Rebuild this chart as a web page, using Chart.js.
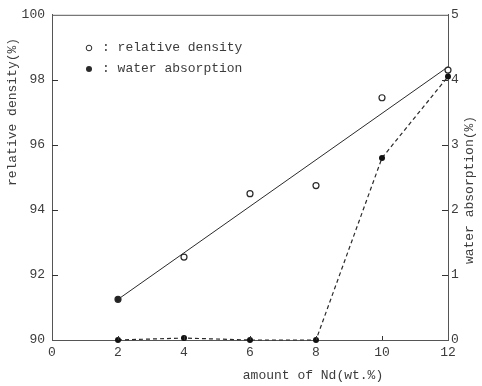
<!DOCTYPE html>
<html>
<head>
<meta charset="utf-8">
<script src="https://cdn.jsdelivr.net/npm/chart.js@4"></script>
<style>
  html, body { margin: 0; padding: 0; background: #fff; }
  #wrap { width: 482px; height: 386px; }
</style>
</head>
<body>
<div id="wrap"><canvas id="c" width="482" height="386"></canvas></div>
<script>
// Nd content (wt.%) of the sintered samples
const ndAmount = [2, 4, 6, 8, 10, 12];
// measured relative density (%)
const relativeDensity = [91.25, 92.55, 94.5, 94.75, 97.45, 98.3];
// measured water absorption (%)
const waterAbsorption = [0, 0.03, 0, 0, 2.8, 4.05];
// straight trend line through the density data
const fitAmount = [2, 12];
const fitDensity = [91.25, 98.4];
// axis tick values
const xTicks = [0, 2, 4, 6, 8, 10, 12];
const densityTicks = [90, 92, 94, 96, 98, 100];
const absorptionTicks = [0, 1, 2, 3, 4, 5];

const FONT = '"Liberation Mono", "DejaVu Sans Mono", monospace';
const INK = '#2a2a2a';
const TEXT = '#3c3c3c';

const pts = (xs, ys) => xs.map((x, i) => ({ x: x, y: ys[i] }));
const fixTicks = vals => scale => { scale.ticks = vals.map(v => ({ value: v })); };

// frame, inward tick marks, axis titles and the key
const decorations = {
  id: 'decorations',
  afterDraw(chart) {
    const { ctx, chartArea: a, scales } = chart;
    ctx.save();
    ctx.strokeStyle = '#555';
    ctx.lineWidth = 1;
    ctx.beginPath();
    ctx.moveTo(a.left, a.top + 0.5);
    ctx.lineTo(a.right, a.top + 0.5);
    ctx.stroke();

    ctx.strokeStyle = '#333';
    ctx.beginPath();
    densityTicks.slice(1, -1).forEach(v => {
      const y = Math.round(scales.y.getPixelForValue(v)) + 0.5;
      ctx.moveTo(a.left, y); ctx.lineTo(a.left + 6, y);
    });
    absorptionTicks.slice(1, -1).forEach(v => {
      const y = Math.round(scales.y2.getPixelForValue(v)) + 0.5;
      ctx.moveTo(a.right, y); ctx.lineTo(a.right - 6, y);
    });
    xTicks.slice(1, -1).forEach(v => {
      const x = Math.round(scales.x.getPixelForValue(v)) + 0.5;
      ctx.moveTo(x, a.bottom); ctx.lineTo(x, a.bottom - 4);
    });
    ctx.stroke();

    ctx.fillStyle = TEXT;
    ctx.font = '13px ' + FONT;
    ctx.textBaseline = 'middle';
    ctx.textAlign = 'center';
    ctx.fillText('amount of Nd(wt.%)', 313, 376);

    ctx.save();
    ctx.translate(13, 112);
    ctx.rotate(-Math.PI / 2);
    ctx.fillText('relative density(%)', 0, 0);
    ctx.restore();

    ctx.save();
    ctx.translate(470, 190);
    ctx.rotate(-Math.PI / 2);
    ctx.fillText('water absorption(%)', 0, 0);
    ctx.restore();

    // key
    ctx.textAlign = 'left';
    ctx.strokeStyle = INK;
    ctx.beginPath();
    ctx.arc(89, 48, 2.8, 0, Math.PI * 2);
    ctx.stroke();
    ctx.fillStyle = INK;
    ctx.beginPath();
    ctx.arc(89, 69, 3, 0, Math.PI * 2);
    ctx.fill();
    ctx.fillStyle = TEXT;
    ctx.fillText(': relative density', 102, 48);
    ctx.fillText(': water absorption', 102, 69);
    ctx.restore();
  }
};

new Chart(document.getElementById('c'), {
  type: 'scatter',
  data: {
    datasets: [
      {
        label: 'trend',
        data: pts(fitAmount, fitDensity),
        yAxisID: 'y',
        showLine: true,
        borderColor: INK,
        borderWidth: 1,
        pointRadius: 0,
        clip: false
      },
      {
        label: 'relative density',
        data: pts(ndAmount, relativeDensity),
        yAxisID: 'y',
        showLine: false,
        pointRadius: 3,
        pointBorderWidth: 1.2,
        pointBorderColor: INK,
        pointBackgroundColor: ['#222', '#fff', '#fff', '#fff', '#fff', '#fff'],
        clip: false
      },
      {
        label: 'water absorption',
        data: pts(ndAmount, waterAbsorption),
        yAxisID: 'y2',
        showLine: true,
        borderColor: INK,
        borderWidth: 1.2,
        borderDash: [4, 3],
        pointRadius: 3,
        pointBorderWidth: 0,
        pointBackgroundColor: '#111',
        clip: false
      }
    ]
  },
  options: {
    responsive: false,
    animation: false,
    devicePixelRatio: 1,
    layout: { padding: { top: 12, left: 0, right: 0, bottom: 0 } },
    plugins: { legend: { display: false }, tooltip: { enabled: false } },
    scales: {
      x: {
        type: 'linear',
        min: 0, max: 12,
        afterBuildTicks: fixTicks(xTicks),
        afterFit: s => { s.height = 46; },
        grid: { display: false, drawTicks: false },
        border: { display: true, color: '#555', width: 1 },
        ticks: { color: TEXT, font: { family: FONT, size: 13 }, padding: 5, maxRotation: 0 }
      },
      y: {
        position: 'left',
        min: 90, max: 100,
        afterBuildTicks: fixTicks(densityTicks),
        afterFit: s => { s.width = 52; },
        grid: { display: false, drawTicks: false },
        border: { display: true, color: '#555', width: 1 },
        ticks: { color: TEXT, font: { family: FONT, size: 13 }, padding: 7 }
      },
      y2: {
        position: 'right',
        min: 0, max: 5,
        afterBuildTicks: fixTicks(absorptionTicks),
        afterFit: s => { s.width = 34; },
        grid: { display: false, drawTicks: false },
        border: { display: true, color: '#555', width: 1 },
        ticks: { color: TEXT, font: { family: FONT, size: 13 }, padding: 3 }
      }
    }
  },
  plugins: [decorations]
});
</script>
</body>
</html>
